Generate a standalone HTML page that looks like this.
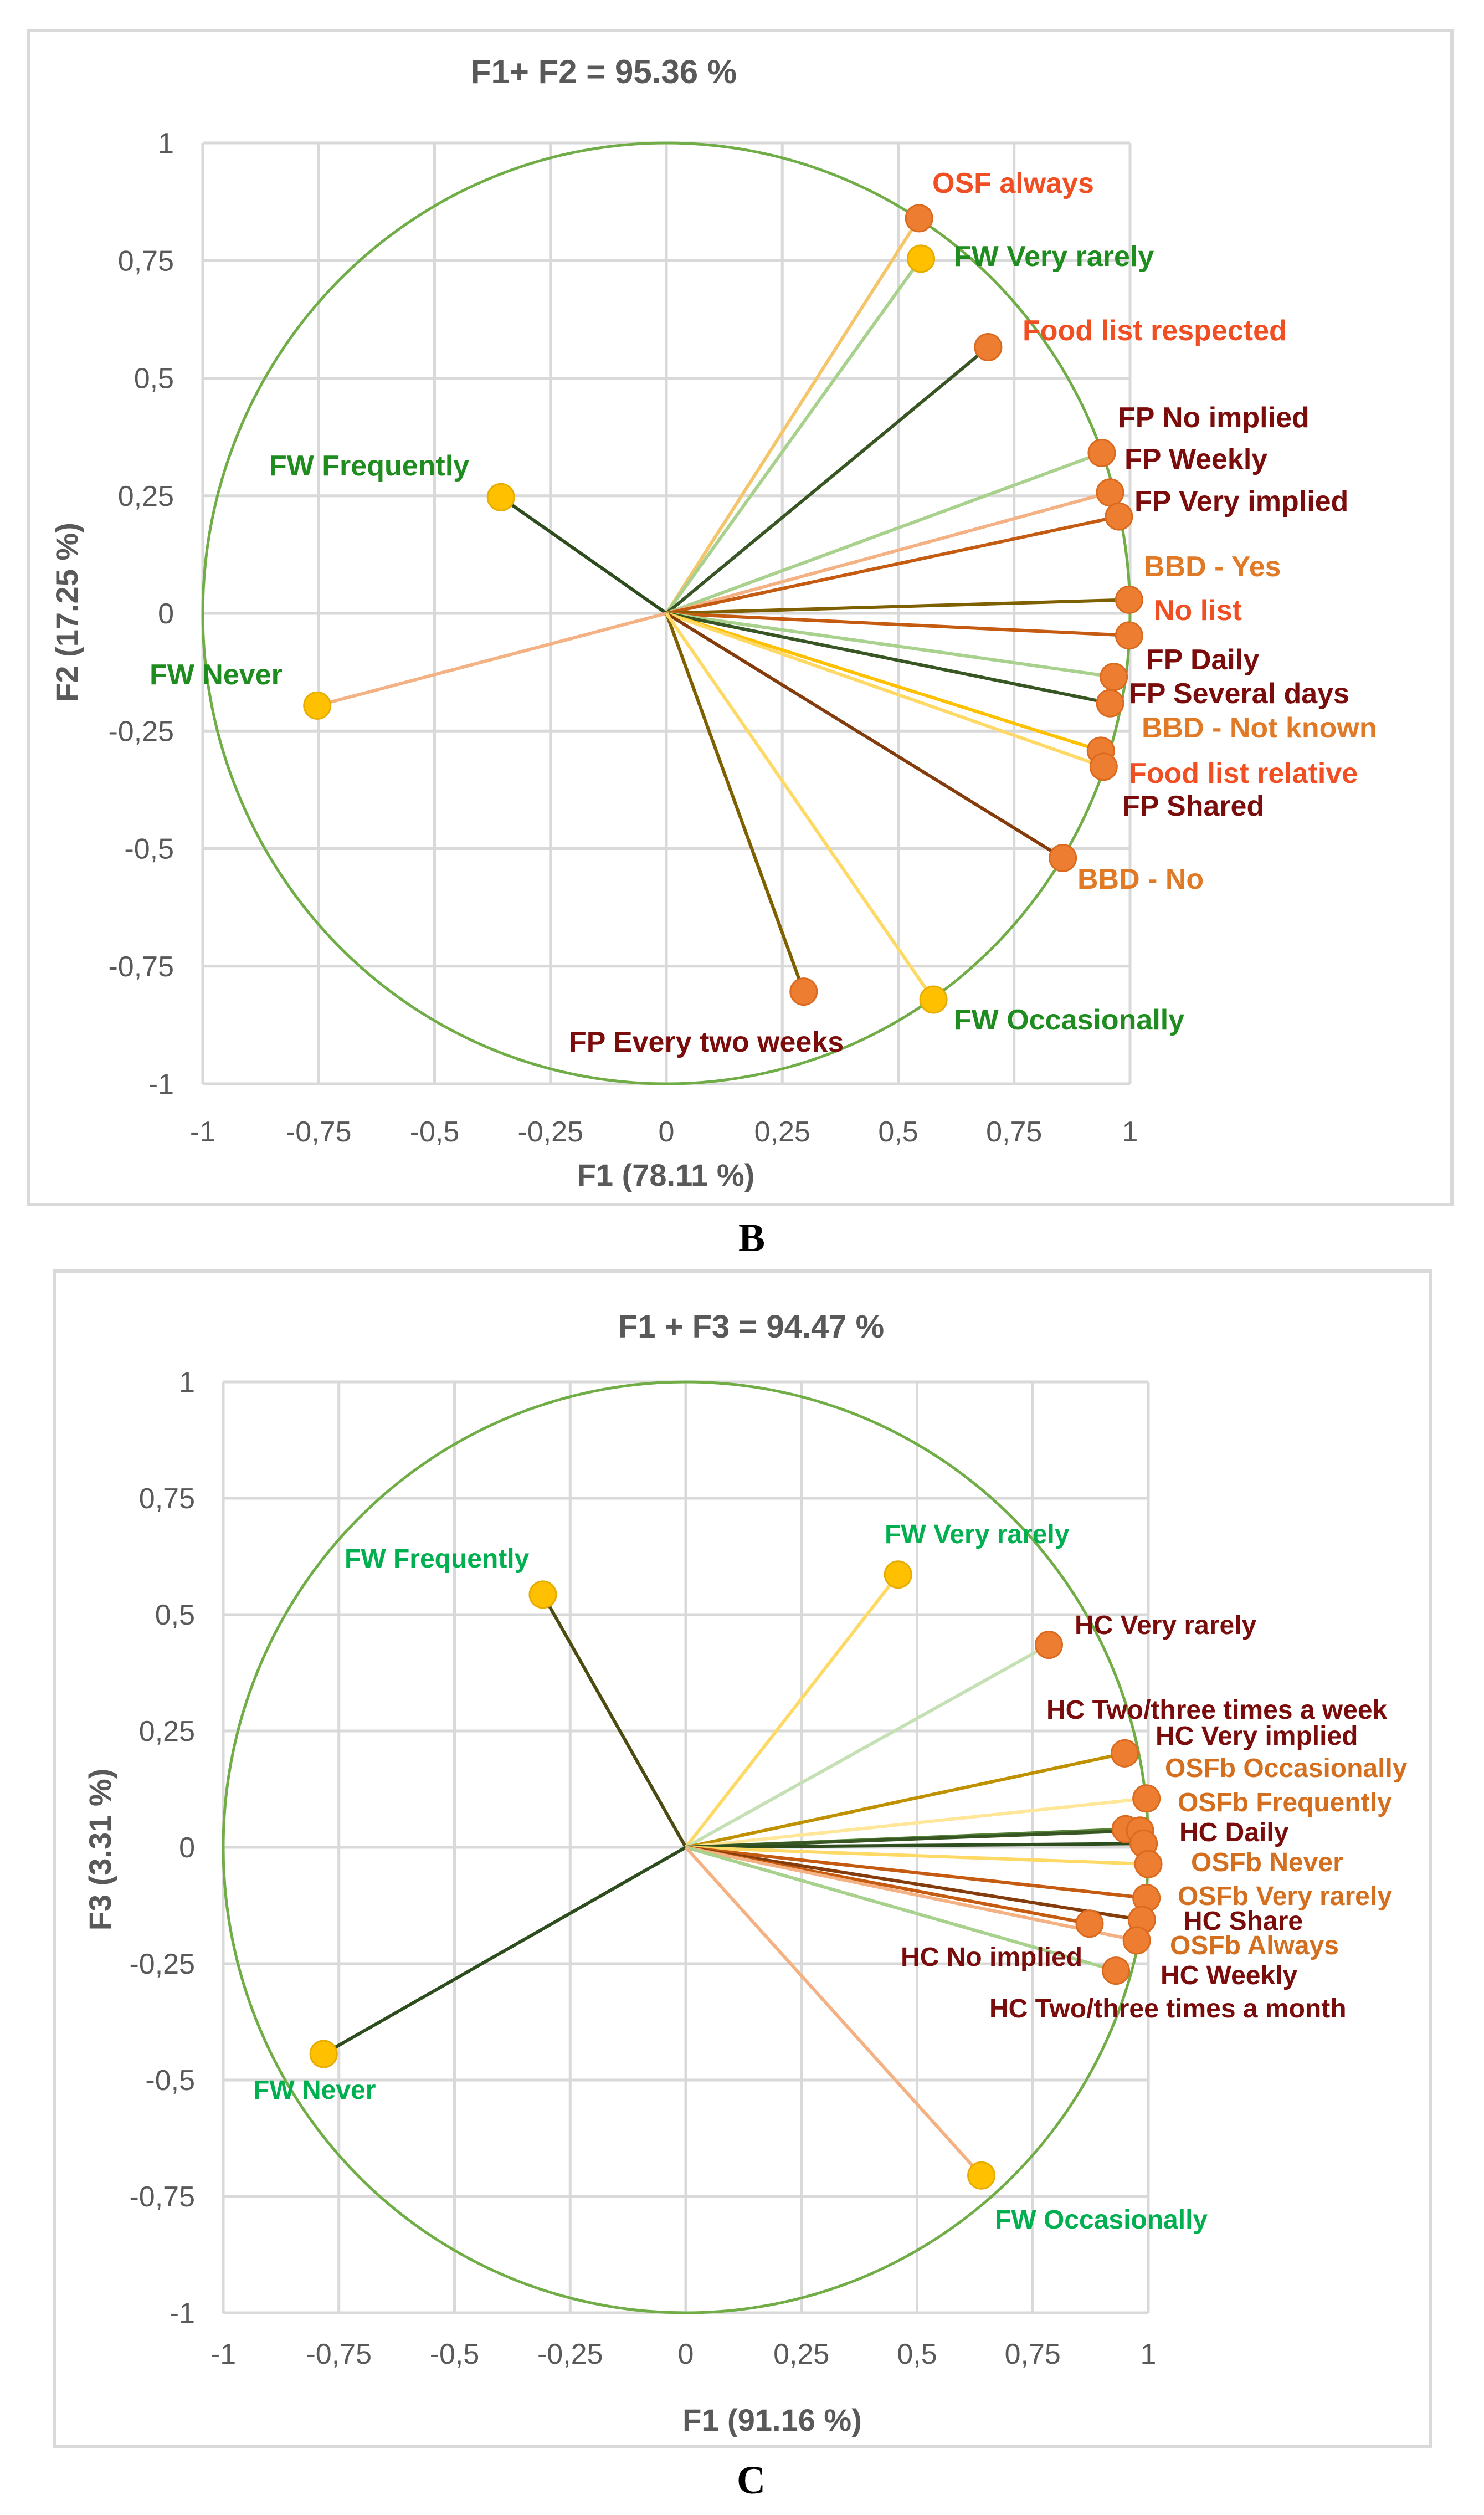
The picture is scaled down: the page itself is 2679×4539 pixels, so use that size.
<!DOCTYPE html>
<html><head><meta charset="utf-8"><style>
html,body{margin:0;padding:0;background:#fff}
svg{display:block}
text{font-family:"Liberation Sans",sans-serif}
</style></head><body>
<svg id="root" width="2679" height="4539" viewBox="0 0 2679 4539" xmlns="http://www.w3.org/2000/svg">
<rect x="52" y="55" width="2569" height="2119" fill="#fff" stroke="#d9d9d9" stroke-width="6"/>
<rect x="98" y="2294" width="2485" height="2121" fill="#fff" stroke="#d9d9d9" stroke-width="6"/>
<text x="1090" y="150" text-anchor="middle" font-size="60" font-weight="bold" fill="#595959">F1+ F2 = 95.36 %</text>
<text x="1356" y="2414" text-anchor="middle" font-size="58" font-weight="bold" fill="#595959">F1 + F3 = 94.47 %</text>
<text x="1202" y="2140" text-anchor="middle" font-size="56" font-weight="bold" fill="#595959">F1 (78.11 %)</text>
<text x="1394" y="4387" text-anchor="middle" font-size="56" font-weight="bold" fill="#595959">F1 (91.16 %)</text>
<text transform="translate(140,1105) rotate(-90)" text-anchor="middle" font-size="56" font-weight="bold" fill="#595959">F2 (17.25 %)</text>
<text transform="translate(200,3338) rotate(-90)" text-anchor="middle" font-size="56" font-weight="bold" fill="#595959">F3 (3.31 %)</text>
<text x="1357" y="2258" text-anchor="middle" font-size="72" font-weight="bold" fill="#000" style="font-family:'Liberation Serif',serif">B</text>
<text x="1356" y="4500" text-anchor="middle" font-size="72" font-weight="bold" fill="#000" style="font-family:'Liberation Serif',serif">C</text>
<g id="chartB"></g>
<g id="chartC"></g>
</svg>
<script>
var ticks = [-1, -0.75, -0.5, -0.25, 0, 0.25, 0.5, 0.75, 1];
var tickLabels = ["-1", "-0,75", "-0,5", "-0,25", "0", "0,25", "0,5", "0,75", "1"];

// Chart B data
var bNames = ["OSF always","FW Very rarely","Food list respected","FW Frequently","FW Never","FP No implied","FP Weekly","FP Very implied","No list","BBD - Yes","FP Daily","FP Several days","BBD - Not known","Food list relative","BBD - No","FP Every two weeks","FW Occasionally"];
var bF1 = [0.545,0.549,0.694,-0.357,-0.753,0.939,0.957,0.976,0.998,0.998,0.965,0.957,0.937,0.943,0.855,0.296,0.576];
var bF2 = [0.840,0.754,0.566,0.247,-0.196,0.341,0.257,0.206,0.029,-0.047,-0.135,-0.191,-0.292,-0.326,-0.520,-0.804,-0.821];
var bLine = ["#f5c56b","#a9d18e","#375623","#2e4d1e","#f4b183","#a9d18e","#f4b183","#c55a11","#7f6000","#c55a11","#a9d18e","#375623","#ffc000","#ffd966","#843c0c","#7f6000","#ffd966"];
var bMarker = ["#ed7d31","#ffc000","#ed7d31","#ffc000","#ffc000","#ed7d31","#ed7d31","#ed7d31","#ed7d31","#ed7d31","#ed7d31","#ed7d31","#ed7d31","#ed7d31","#ed7d31","#ed7d31","#ffc000"];
var bLabelText = ["OSF always","FW Very rarely","Food list respected","FP No implied","FP Weekly","FP Very implied","BBD - Yes","No list","FP Daily","FP Several days","BBD - Not known","Food list relative","FP Shared","BBD - No","FP Every two weeks","FW Occasionally","FW Frequently","FW Never"];
var bLabelX = [1683,1722,1846,2018,2030,2048,2065,2083,2069,2038,2061,2038,2026,1945,1027,1722,486,270];
var bLabelY = [330,462,596,753,828,904,1022,1101,1190,1251,1313,1395,1454,1586,1880,1840,840,1217];
var bLabelColor = ["#f04e23","#1e8c1e","#f04e23","#7b0c0c","#7b0c0c","#7b0c0c","#e07a27","#f04e23","#7b0c0c","#7b0c0c","#e07a27","#f04e23","#7b0c0c","#e07a27","#7b0c0c","#1e8c1e","#1e8c1e","#1e8c1e"];

// Chart C data
var cNames = ["FW Frequently","FW Very rarely","HC Very rarely","HC Two/three times a week","HC Very implied","OSFb Occasionally","HC Daily","OSFb Frequently","OSFb Never","OSFb Very rarely","HC Share","HC No implied","OSFb Always","HC Weekly","FW Never","FW Occasionally"];
var cF1 = [-0.309,0.459,0.785,0.949,0.996,0.951,0.982,0.990,1.000,0.996,0.986,0.873,0.975,0.930,-0.783,0.639];
var cF3 = [0.543,0.586,0.435,0.202,0.105,0.039,0.036,0.008,-0.036,-0.109,-0.156,-0.164,-0.200,-0.265,-0.444,-0.705];
var cLine = ["#4d4a12","#ffd966","#c5e0b4","#bf9000","#ffe699","#548235","#375623","#2e4d1e","#ffd966","#c55a11","#843c0c","#c55a11","#f4b183","#a9d18e","#2e4d1e","#f4b183"];
var cMarker = ["#ffc000","#ffc000","#ed7d31","#ed7d31","#ed7d31","#ed7d31","#ed7d31","#ed7d31","#ed7d31","#ed7d31","#ed7d31","#ed7d31","#ed7d31","#ed7d31","#ffc000","#ffc000"];
var cLabelText = ["FW Very rarely","FW Frequently","HC Very rarely","HC Two/three times a week","HC Very implied","OSFb Occasionally","OSFb Frequently","HC Daily","OSFb Never","OSFb Very rarely","HC Share","OSFb Always","HC No implied","HC Weekly","HC Two/three times a month","FW Never","FW Occasionally"];
var cLabelX = [1597,622,1940,1889,2086,2103,2126,2129,2150,2126,2136,2112,1626,2095,1786,457,1796];
var cLabelY = [2768,2812,2932,3085,3132,3190,3252,3306,3360,3421,3466,3510,3531,3564,3624,3771,4005];
var cLabelColor = ["#00b050","#00b050","#7b0c0c","#7b0c0c","#7b0c0c","#d46f1f","#d46f1f","#7b0c0c","#d46f1f","#d46f1f","#7b0c0c","#d46f1f","#7b0c0c","#7b0c0c","#7b0c0c","#00b050","#00b050"];

var NS = "http://www.w3.org/2000/svg";
function mk(parent, tag, attrs) {
  var e = document.createElementNS(NS, tag);
  for (var k in attrs) e.setAttribute(k, attrs[k]);
  parent.appendChild(e);
  return e;
}

function drawChart(g, box, xs, ys, lineCols, markCols, names, lblText, lblX, lblY, lblCol, fs, yLabRight, xLabY, prefix) {
  var sx = function (v) { return box.x0 + (v + 1) / 2 * (box.x1 - box.x0); };
  var sy = function (v) { return box.y1 - (v + 1) / 2 * (box.y1 - box.y0); };
  for (var i = 0; i < ticks.length; i++) {
    var gv = mk(g, "line", {x1: sx(ticks[i]), x2: sx(ticks[i]), y1: box.y0, y2: box.y1, stroke: "#d9d9d9", "stroke-width": 5});
    
    
    var gh = mk(g, "line", {x1: box.x0, x2: box.x1, y1: sy(ticks[i]), y2: sy(ticks[i]), stroke: "#d9d9d9", "stroke-width": 5});
    
    
    var tx = mk(g, "text", {x: sx(ticks[i]), y: xLabY, "text-anchor": "middle", "font-size": 52, fill: "#595959"});
    tx.textContent = tickLabels[i];
    
    
    var ty = mk(g, "text", {x: yLabRight, y: sy(ticks[i]) + 18, "text-anchor": "end", "font-size": 52, fill: "#595959"});
    ty.textContent = tickLabels[i];
    
    
  }
  var circ = mk(g, "ellipse", {cx: sx(0), cy: sy(0), rx: sx(1) - sx(0), ry: sy(0) - sy(1), fill: "none", stroke: "#70ad47", "stroke-width": 5});
  
  
  for (var j = 0; j < xs.length; j++) {
    var ln = mk(g, "line", {x1: sx(0), y1: sy(0), x2: sx(xs[j]), y2: sy(ys[j]), stroke: lineCols[j], "stroke-width": 6});
    
    
  }
  for (var k = 0; k < xs.length; k++) {
    var dot = mk(g, "circle", {cx: sx(xs[k]), cy: sy(ys[k]), r: 24, fill: markCols[k], stroke: markCols[k] === "#ffc000" ? "#e6ac00" : "#d96a1f", "stroke-width": 3});
    
    
  }
  for (var m = 0; m < lblText.length; m++) {
    var lb = mk(g, "text", {x: lblX[m], y: lblY[m] + fs * 0.35, "font-size": fs, "font-weight": "bold", fill: lblCol[m]});
    lb.textContent = lblText[m];
    
    
  }
}

drawChart(document.getElementById("chartB"), {x0: 366, x1: 2040, y0: 258, y1: 1956}, bF1, bF2, bLine, bMarker, bNames, bLabelText, bLabelX, bLabelY, bLabelColor, 52, 314, 2060, "chart-b");
drawChart(document.getElementById("chartC"), {x0: 403, x1: 2073, y0: 2494, y1: 4174}, cF1, cF3, cLine, cMarker, cNames, cLabelText, cLabelX, cLabelY, cLabelColor, 48, 352, 4266, "chart-c");
</script>
</body></html>
